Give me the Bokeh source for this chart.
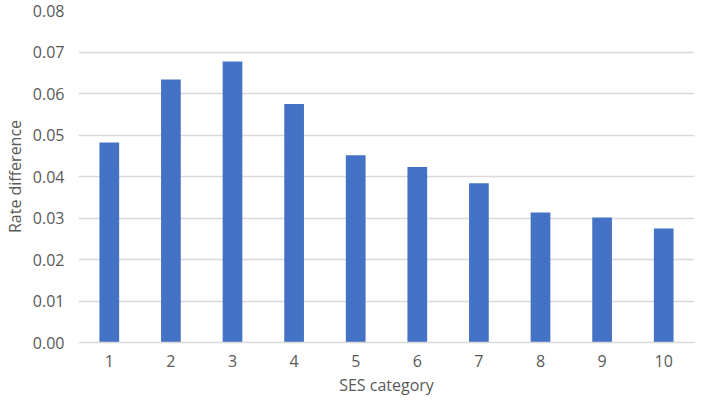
from bokeh.plotting import figure
from bokeh.models import Range1d, FactorRange, NumeralTickFormatter
from bokeh.embed import file_html
from bokeh.resources import INLINE

categories = ["1", "2", "3", "4", "5", "6", "7", "8", "9", "10"]
rate_difference = [0.0482, 0.0634, 0.0677, 0.0575, 0.0451, 0.0423, 0.0384, 0.0313, 0.0301, 0.0275]
y_ticks = [0.00, 0.01, 0.02, 0.03, 0.04, 0.05, 0.06, 0.07, 0.08]

FONT = "Open Sans"
TXT = "#595959"

p = figure(width=696, height=398, x_range=FactorRange(*categories), y_range=Range1d(0, 0.08),
           output_backend="svg", toolbar_location=None,
           min_border_left=0, min_border_right=2, min_border_top=10, min_border_bottom=0)
p.outline_line_color = None

p.vbar(x=categories, top=rate_difference, width=0.32, color="#4472C4", line_color=None)

p.yaxis.ticker = y_ticks
p.yaxis.formatter = NumeralTickFormatter(format="0.00")
p.ygrid.grid_line_color = "#D9D9D9"
p.ygrid.grid_line_width = 1.3
p.xgrid.grid_line_color = None

for ax in (p.xaxis[0], p.yaxis[0]):
    ax.major_tick_line_color = None
    ax.minor_tick_line_color = None
    ax.major_tick_out = 0
    ax.major_tick_in = 0
    ax.minor_tick_out = 0
    ax.major_label_text_font = FONT
    ax.major_label_text_font_size = "16px"
    ax.major_label_text_color = TXT
    ax.axis_label_text_font = FONT
    ax.axis_label_text_font_size = "16px"
    ax.axis_label_text_color = TXT
    ax.axis_label_text_font_style = "normal"

p.yaxis.axis_line_color = None
p.xaxis.axis_line_color = "#D9D9D9"
p.xaxis.axis_line_width = 1.3
p.xaxis.axis_label = "SES category"
p.yaxis.axis_label = "Rate difference"
p.yaxis.major_label_standoff = 14
p.xaxis.major_label_standoff = 12
p.xaxis.axis_label_standoff = 4
p.yaxis.axis_label_standoff = 4

open("out.html", "w").write(file_html(p, INLINE))
